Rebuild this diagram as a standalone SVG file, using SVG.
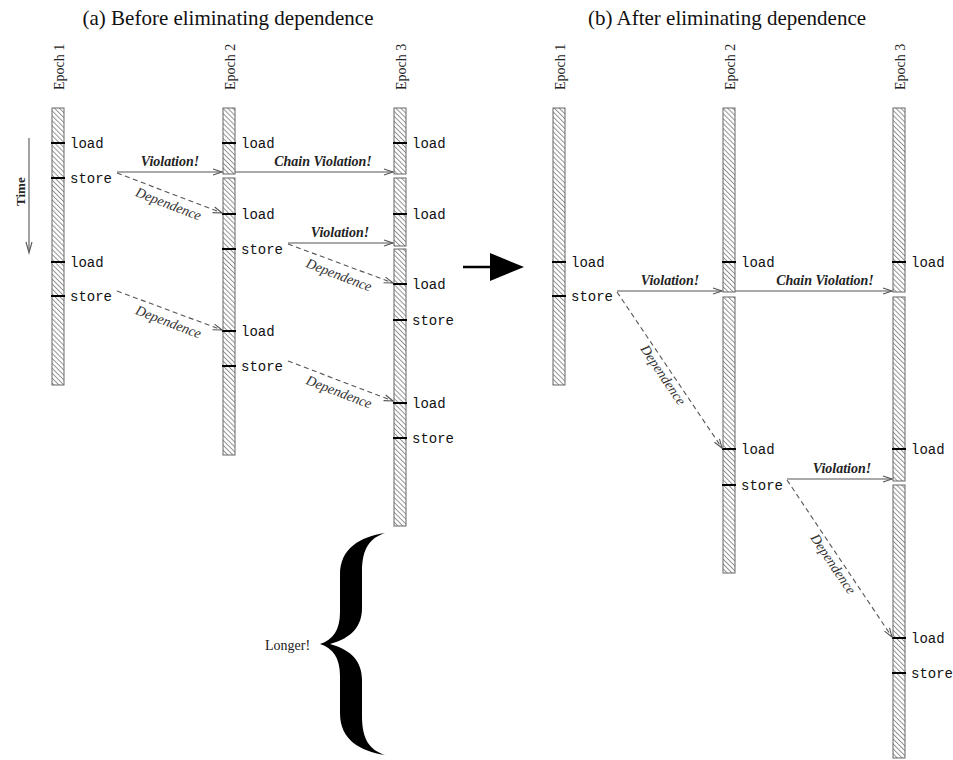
<svg xmlns="http://www.w3.org/2000/svg" width="953" height="760" viewBox="0 0 953 760">
<style>
.title{font-family:"Liberation Serif",serif;font-size:21px;fill:#111;text-anchor:middle}
.epoch{font-family:"Liberation Serif",serif;font-size:14px;fill:#222}
.op{font-family:"Liberation Mono",monospace;font-size:14px;fill:#111}
.viol{font-family:"Liberation Serif",serif;font-size:14px;font-weight:bold;font-style:italic;fill:#222;text-anchor:middle}
.dep{font-family:"Liberation Serif",serif;font-size:14px;font-style:italic;fill:#333;text-anchor:middle}
.bar{fill:url(#hatch);stroke:#666;stroke-width:1}
.tick{stroke:#000;stroke-width:2}
.arr{stroke:#555;stroke-width:1.1;fill:none;marker-end:url(#ah)}
.dash{stroke:#555;stroke-width:1.1;fill:none;stroke-dasharray:5,3.5;marker-end:url(#ah)}
</style>
<defs>
<pattern id="hatch" patternUnits="userSpaceOnUse" width="3.5" height="3.5" patternTransform="rotate(-45)">
<rect width="3.5" height="3.5" fill="#fff"/>
<line x1="0.5" y1="0" x2="0.5" y2="3.5" stroke="#888" stroke-width="0.9"/>
</pattern>
<marker id="ah" markerUnits="userSpaceOnUse" markerWidth="12" markerHeight="8" refX="10" refY="4" orient="auto">
<path d="M1,1 L10,4 L1,7" fill="none" stroke="#555" stroke-width="1.1"/>
</marker>
</defs>
<rect width="953" height="760" fill="#fff"/>

<text class="title" x="228" y="25">(a) Before eliminating dependence</text>
<text class="title" x="727" y="25">(b) After eliminating dependence</text>

<!-- Time arrow -->
<g id="time">
<line x1="29" y1="138" x2="29" y2="250" stroke="#555" stroke-width="1.1"/>
<path d="M26,242 L29,253 L32,242" fill="none" stroke="#555" stroke-width="1.1"/>
<text transform="translate(25,206) rotate(-90)" style="font-family:'Liberation Serif',serif;font-size:13px;font-weight:bold;fill:#222">Time</text>
</g>

<!-- Left panel -->
<g id="a-epoch1">
<text class="epoch" transform="translate(64,90) rotate(-90)">Epoch 1</text>
<rect class="bar" x="52" y="108" width="12" height="277"/>
<line class="tick" x1="51" y1="143" x2="65" y2="143"/>
<line class="tick" x1="51" y1="178" x2="65" y2="178"/>
<line class="tick" x1="51" y1="262" x2="65" y2="262"/>
<line class="tick" x1="51" y1="296" x2="65" y2="296"/>
<text class="op" x="70" y="148">load</text>
<text class="op" x="70" y="183">store</text>
<text class="op" x="70" y="267">load</text>
<text class="op" x="70" y="301">store</text>
</g>
<g id="a-epoch2">
<text class="epoch" transform="translate(235,90) rotate(-90)">Epoch 2</text>
<rect class="bar" x="223" y="108" width="12" height="66"/>
<rect class="bar" x="223" y="178" width="12" height="277"/>
<line class="tick" x1="222" y1="143" x2="236" y2="143"/>
<line class="tick" x1="222" y1="214" x2="236" y2="214"/>
<line class="tick" x1="222" y1="249" x2="236" y2="249"/>
<line class="tick" x1="222" y1="331" x2="236" y2="331"/>
<line class="tick" x1="222" y1="366" x2="236" y2="366"/>
<text class="op" x="241" y="148">load</text>
<text class="op" x="241" y="219">load</text>
<text class="op" x="241" y="254">store</text>
<text class="op" x="241" y="336">load</text>
<text class="op" x="241" y="371">store</text>
</g>
<g id="a-epoch3">
<text class="epoch" transform="translate(406,90) rotate(-90)">Epoch 3</text>
<rect class="bar" x="394" y="108" width="12" height="66"/>
<rect class="bar" x="394" y="178" width="12" height="68"/>
<rect class="bar" x="394" y="249" width="12" height="277"/>
<line class="tick" x1="393" y1="143" x2="407" y2="143"/>
<line class="tick" x1="393" y1="214" x2="407" y2="214"/>
<line class="tick" x1="393" y1="284" x2="407" y2="284"/>
<line class="tick" x1="393" y1="320" x2="407" y2="320"/>
<line class="tick" x1="393" y1="403" x2="407" y2="403"/>
<line class="tick" x1="393" y1="438" x2="407" y2="438"/>
<text class="op" x="412" y="148">load</text>
<text class="op" x="412" y="219">load</text>
<text class="op" x="412" y="289">load</text>
<text class="op" x="412" y="325">store</text>
<text class="op" x="412" y="408">load</text>
<text class="op" x="412" y="443">store</text>
</g>

<!-- Brace -->
<g id="brace">
<path d="M385,533 C360,537 340,548 340,575 L340,612 C340,630 333,640 320,644 C333,648 340,658 340,676 L340,713 C340,740 360,751 385,755 C370,750 362,740 362,716 L362,680 C362,662 352,650 330,644 C352,638 362,626 362,608 L362,572 C362,548 370,538 385,533 Z" fill="#000"/>
<text x="265" y="650" style="font-family:'Liberation Serif',serif;font-size:14px;fill:#222">Longer!</text>
</g>

<!-- Big arrow -->
<g id="big-arrow">
<line x1="463" y1="267" x2="492" y2="267" stroke="#000" stroke-width="2.5"/>
<polygon points="490,253 524,267 490,281" fill="#000"/>
</g>

<!-- Right panel -->
<g id="b-epoch1">
<text class="epoch" transform="translate(565,90) rotate(-90)">Epoch 1</text>
<rect class="bar" x="553" y="108" width="12" height="277"/>
<line class="tick" x1="552" y1="262" x2="566" y2="262"/>
<line class="tick" x1="552" y1="296" x2="566" y2="296"/>
<text class="op" x="571" y="267">load</text>
<text class="op" x="571" y="301">store</text>
</g>
<g id="b-epoch2">
<text class="epoch" transform="translate(735,90) rotate(-90)">Epoch 2</text>
<rect class="bar" x="723" y="108" width="12" height="184"/>
<rect class="bar" x="723" y="297" width="12" height="276"/>
<line class="tick" x1="722" y1="262" x2="736" y2="262"/>
<line class="tick" x1="722" y1="449" x2="736" y2="449"/>
<line class="tick" x1="722" y1="485" x2="736" y2="485"/>
<text class="op" x="741" y="267">load</text>
<text class="op" x="741" y="454">load</text>
<text class="op" x="741" y="490">store</text>
</g>
<g id="b-epoch3">
<text class="epoch" transform="translate(905,90) rotate(-90)">Epoch 3</text>
<rect class="bar" x="893" y="108" width="12" height="184"/>
<rect class="bar" x="893" y="297" width="12" height="184"/>
<rect class="bar" x="893" y="485" width="12" height="273"/>
<line class="tick" x1="892" y1="262" x2="906" y2="262"/>
<line class="tick" x1="892" y1="449" x2="906" y2="449"/>
<line class="tick" x1="892" y1="638" x2="906" y2="638"/>
<line class="tick" x1="892" y1="673" x2="906" y2="673"/>
<text class="op" x="911" y="267">load</text>
<text class="op" x="911" y="454">load</text>
<text class="op" x="911" y="643">load</text>
<text class="op" x="911" y="678">store</text>
</g>

<!-- Connectors -->
<g id="connectors">
<line class="arr" x1="117" y1="172" x2="222" y2="172"/>
<line class="arr" x1="235" y1="172" x2="393" y2="172"/>
<line class="dash" x1="117" y1="173" x2="222" y2="213"/>
<line class="arr" x1="288" y1="243" x2="393" y2="243"/>
<line class="dash" x1="288" y1="244" x2="393" y2="283"/>
<line class="dash" x1="117" y1="291" x2="222" y2="330"/>
<line class="dash" x1="288" y1="361" x2="393" y2="401"/>

<line class="arr" x1="617" y1="291" x2="722" y2="291"/>
<line class="arr" x1="735" y1="291" x2="892" y2="291"/>
<line class="dash" x1="617" y1="292" x2="722" y2="448"/>
<line class="arr" x1="787" y1="479" x2="892" y2="479"/>
<line class="dash" x1="787" y1="480" x2="892" y2="637"/>

<text class="viol" x="170" y="166">Violation!</text>
<text class="viol" x="323" y="166">Chain Violation!</text>
<text class="viol" x="340" y="237">Violation!</text>
<text class="viol" x="670" y="285">Violation!</text>
<text class="viol" x="825" y="285">Chain Violation!</text>
<text class="viol" x="842" y="473">Violation!</text>

<text class="dep" transform="translate(168.5,204) rotate(21)" y="4.5">Dependence</text>
<text class="dep" transform="translate(339,275) rotate(21)" y="4.5">Dependence</text>
<text class="dep" transform="translate(168.5,322) rotate(21)" y="4.5">Dependence</text>
<text class="dep" transform="translate(339,392) rotate(21)" y="4.5">Dependence</text>
<text class="dep" transform="translate(663,375) rotate(56)" y="4.5">Dependence</text>
<text class="dep" transform="translate(833,564) rotate(56)" y="4.5">Dependence</text>
</g>
</svg>
